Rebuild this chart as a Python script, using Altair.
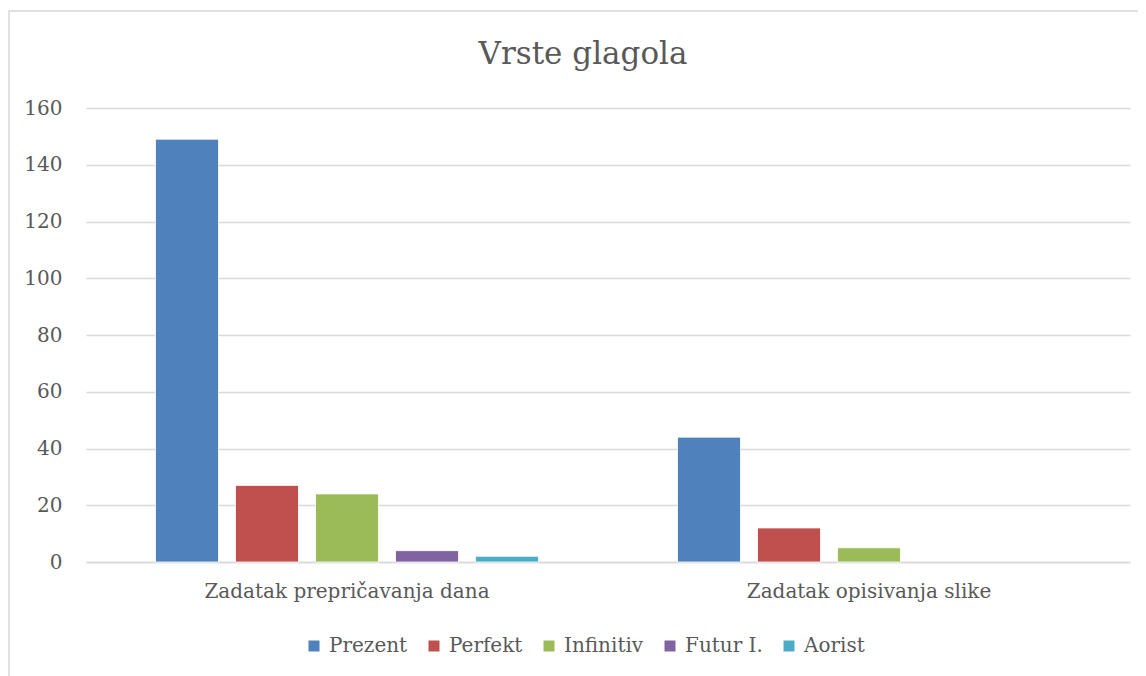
import altair as alt
import pandas as pd

title_text = "Vrste glagola"
categories = ["Zadatak prepričavanja dana", "Zadatak opisivanja slike"]
series = ["Prezent", "Perfekt", "Infinitiv", "Futur I.", "Aorist"]
colors = ["#4F81BD", "#C0504D", "#9BBB59", "#8064A2", "#4BACC6"]
values_dan = [149, 27, 24, 4, 2]
values_slika = [44, 12, 5, 0, 0]
y_ticks = [0, 20, 40, 60, 80, 100, 120, 140, 160]

rows = []
for s, a, b in zip(series, values_dan, values_slika):
    rows.append({"kategorija": categories[0], "vrsta": s, "broj": a})
    rows.append({"kategorija": categories[1], "vrsta": s, "broj": b})
df = pd.DataFrame(rows)

FONT = "DejaVu Serif"
GREY = "#595959"

frame = alt.Chart(pd.DataFrame({"a": [0]})).mark_rect(
    fillOpacity=0, stroke="#d9d9d9", strokeWidth=1.5
).encode(
    x=alt.value(-77), x2=alt.value(1100),
    y=alt.value(-97), y2=alt.value(700)
)

title = alt.Chart(pd.DataFrame({"t": [title_text]})).mark_text(
    font=FONT, fontSize=31, color=GREY, baseline="middle", align="center"
).encode(text="t:N", x=alt.value(497), y=alt.value(-53))

bars = alt.Chart(df).mark_bar(stroke="white").encode(
    x=alt.X("kategorija:N", sort=categories,
            scale=alt.Scale(paddingInner=0, paddingOuter=0),
            axis=alt.Axis(title=None, labelAngle=0, ticks=False, labelLimit=0,
                          domainColor="#d9d9d9", domainWidth=1.5,
                          labelFont=FONT, labelFontSize=20, labelColor=GREY,
                          labelPadding=19)),
    xOffset=alt.XOffset("vrsta:N", sort=series,
                        scale=alt.Scale(paddingInner=0.2125, paddingOuter=0.869)),
    y=alt.Y("broj:Q", scale=alt.Scale(domain=[0, 160], nice=False),
            axis=alt.Axis(title=None, values=y_ticks, ticks=False, domain=False,
                          gridColor="#d9d9d9", gridWidth=1.5,
                          labelFont=FONT, labelFontSize=20, labelColor=GREY,
                          labelPadding=24)),
    strokeWidth=alt.condition("datum.broj > 0", alt.value(0.8), alt.value(0)),
    color=alt.Color("vrsta:N", sort=series,
                    scale=alt.Scale(domain=series, range=colors),
                    legend=alt.Legend(title=None, orient="none", direction="horizontal",
                                      legendX=218, legendY=528,
                                      symbolType="square", symbolSize=121,
                                      symbolStrokeWidth=0,
                                      labelFont=FONT, labelFontSize=20, labelColor=GREY,
                                      columnPadding=16, labelOffset=5,
                                      columns=5)),
)

chart = alt.layer(frame, title, bars).properties(
    width=1044, height=454,
    padding={"left": 78, "top": 100, "right": 8, "bottom": 120},
    autosize="none",
).configure_view(stroke=None)

chart.save("out.html", embed_options={"renderer": "svg", "actions": False})
